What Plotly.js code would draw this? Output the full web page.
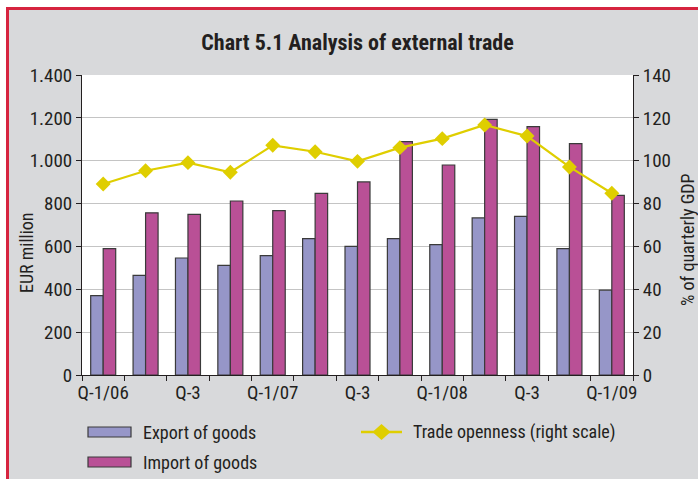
<!DOCTYPE html>
<html>
<head>
<meta charset="utf-8">
<script src="https://cdn.plot.ly/plotly-3.0.1.min.js"></script>
<style>
  html, body { margin: 0; padding: 0; background: #ffffff; }
  #frame { position: absolute; left: 6px; top: 7px; width: 692px; height: 472px;
           background: #d8d9db; border-left: 3px solid #d6243f; border-top: 3px solid #d6243f; box-sizing: border-box; }
  #chart { position: absolute; left: 0; top: 0; width: 698px; height: 479px; }
</style>
</head>
<body>
<div id="frame"></div>
<div id="chart"></div>
<script>
// ---- data ----
const quarters = ["Q1/06","Q2/06","Q3/06","Q4/06","Q1/07","Q2/07","Q3/07","Q4/07","Q1/08","Q2/08","Q3/08","Q4/08","Q1/09"];
const tickLabels = ["Q-1/06","","Q-3","","Q-1/07","","Q-3","","Q-1/08","","Q-3","","Q-1/09"];
const exportGoods = [370, 465, 546, 512, 557, 636, 600, 636, 608, 733, 740, 590, 396];
const importGoods = [590, 757, 750, 812, 767, 848, 901, 1089, 980, 1193, 1159, 1080, 838];
const tradeOpenness = [89.1, 95.3, 99.1, 94.6, 107.2, 104.2, 99.7, 106.1, 110.3, 116.7, 111.5, 97.1, 84.8];
const seriesNames = ["Export of goods", "Import of goods", "Trade openness (right scale)"];
const axisTitles = ["EUR million", "% of quarterly GDP"];

// ---- styles ----
const FONT = "Roboto Condensed, Open Sans Condensed, DejaVu Sans Condensed, sans-serif";
const TXT = "#231f20";
const cExport = "#9696c8";
const cImport = "#b95096";
const cTrade = "#dfce00";

const traces = [
  { type: "bar", name: seriesNames[0], x: quarters, y: exportGoods,
    marker: { color: cExport, line: { color: "#3a3a3a", width: 1.2 } }, showlegend: false },
  { type: "bar", name: seriesNames[1], x: quarters, y: importGoods,
    marker: { color: cImport, line: { color: "#3a3a3a", width: 1.2 } }, showlegend: false },
  { type: "scatter", mode: "lines+markers", name: seriesNames[2], x: quarters, y: tradeOpenness, yaxis: "y2",
    line: { color: cTrade, width: 2.2 }, marker: { symbol: "diamond", size: 11.5, color: cTrade }, showlegend: false }
];

// legend helpers (paper coords: plot spans x 82..633 px, y 75..375 px)
const px = v => (v - 82) / 551;
const py = v => (375 - v) / 300;

const shapes = [
  { type: "rect", xref: "paper", yref: "paper", x0: px(88), x1: px(131), y0: py(437), y1: py(427),
    fillcolor: cExport, line: { color: "#3a3a3a", width: 1.2 } },
  { type: "rect", xref: "paper", yref: "paper", x0: px(88), x1: px(131), y0: py(467), y1: py(457),
    fillcolor: cImport, line: { color: "#3a3a3a", width: 1.2 } },
  { type: "line", xref: "paper", yref: "paper", x0: px(361), x1: px(402), y0: py(432), y1: py(432),
    line: { color: cTrade, width: 2.5 } },
  { type: "path", xref: "paper", yref: "paper",
    path: `M ${px(381.5-9)} ${py(432)} L ${px(381.5)} ${py(424)} L ${px(381.5+9)} ${py(432)} L ${px(381.5)} ${py(440)} Z`,
    fillcolor: cTrade, line: { color: cTrade, width: 0 } }
];

const annotations = [
  { text: seriesNames[0], xref: "paper", yref: "paper", x: px(141), y: py(432), xanchor: "left", yanchor: "middle", showarrow: false,
    font: { family: FONT, size: 18, color: TXT } },
  { text: seriesNames[1], xref: "paper", yref: "paper", x: px(141), y: py(462), xanchor: "left", yanchor: "middle", showarrow: false,
    font: { family: FONT, size: 18, color: TXT } },
  { text: seriesNames[2], xref: "paper", yref: "paper", x: px(411), y: py(432), xanchor: "left", yanchor: "middle", showarrow: false,
    font: { family: FONT, size: 18, color: TXT } },
  { text: axisTitles[0], xref: "paper", yref: "paper", x: px(27), y: py(253), xanchor: "center", yanchor: "middle", textangle: -90,
    showarrow: false, font: { family: FONT, size: 18, color: TXT } },
  { text: axisTitles[1], xref: "paper", yref: "paper", x: px(687), y: py(240), xanchor: "center", yanchor: "middle", textangle: -90,
    showarrow: false, font: { family: FONT, size: 18, color: TXT } }
];

const layout = {
  width: 698, height: 479,
  margin: { l: 82, r: 65, t: 75, b: 104 },
  paper_bgcolor: "rgba(0,0,0,0)",
  plot_bgcolor: "#ffffff",
  separators: ",.",
  font: { family: FONT, size: 19, color: TXT },
  title: { text: "<b>Chart 5.1 Analysis of external trade</b>", font: { family: FONT, size: 22, color: TXT },
           xref: "paper", x: 0.5, xanchor: "center", yref: "container", y: 1 - 42/479, yanchor: "middle" },
  barmode: "group", bargap: 0.41, bargroupgap: 0,
  xaxis: { type: "category", range: [-0.5, 12.5], tickmode: "array", tickvals: quarters, ticktext: tickLabels, tickson: "boundaries",
           tickangle: 0, ticks: "outside", ticklen: 5, tickcolor: "#231f20", showline: true, linecolor: "#231f20", linewidth: 1,
           showgrid: false, tickfont: { family: FONT, size: 19, color: TXT } },
  yaxis: { range: [0, 1400], dtick: 200, tickformat: ",d", ticks: "outside", ticklen: 5, tickcolor: "#231f20",
           showline: true, linecolor: "#231f20", linewidth: 1, showgrid: true, gridcolor: "#c4c4c4", gridwidth: 1,
           zeroline: false, tickfont: { family: FONT, size: 19, color: TXT } },
  yaxis2: { range: [0, 140], dtick: 20, overlaying: "y", side: "right", ticks: "outside", ticklen: 5, tickcolor: "#231f20",
            showline: true, linecolor: "#231f20", linewidth: 1, showgrid: false, zeroline: false,
            tickfont: { family: FONT, size: 19, color: TXT } },
  shapes: shapes,
  annotations: annotations,
  showlegend: false
};

Plotly.newPlot("chart", traces, layout, { displayModeBar: false, staticPlot: true });
</script>
</body>
</html>
